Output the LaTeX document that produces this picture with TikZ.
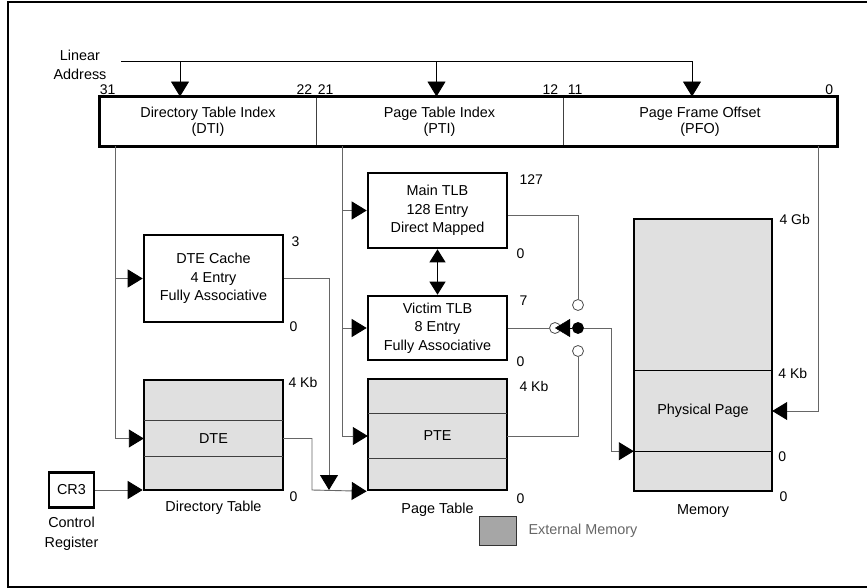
\documentclass[tikz,border=0pt]{standalone}
\usepackage{fontspec}
\setmainfont{Liberation Sans}
\usetikzlibrary{arrows.meta}
\newcommand{\vmfont}{\fontsize{14.4}{18.5}\selectfont}
\newcommand{\numfont}{\fontsize{14}{16}\selectfont}
\tikzset{
    box/.style={draw, line width=2.6pt, inner sep=0pt, align=center, font=\vmfont},
    tab/.style={box, fill=black!12},
    field/.style={draw=black!75, line width=0.9pt, inner sep=0pt, align=center, font=\vmfont, minimum height=49pt},
    row/.style={inner sep=0pt, align=center, font=\vmfont},
    div/.style={draw=black!75, line width=0.9pt},
    wire/.style={draw=black!60, line width=0.9pt},
    arr/.style={-{Triangle[length=15pt,width=18pt,color=black]}},
    num/.style={anchor=north west, inner sep=0pt, font=\numfont},
    captxt/.style={anchor=north, inner sep=0pt, align=center, font=\vmfont},
    port/.style={circle, draw=black!70, fill=white, line width=0.8pt, minimum size=11pt, inner sep=0pt},
}
\begin{document}
\begin{tikzpicture}[x=1pt,y=-1pt]
    \useasboundingbox (0,0) rectangle (867,588);
    \draw[line width=2pt] (867,2) -- (8,2) -- (8,587) -- (867,587);

    % linear address
    \node[row] (lin) at (80,65) {Linear\\Address};
    \node[field, minimum width=216pt] (dti) at (208,121.5) {Directory Table Index\\[-2.5pt](DTI)};
    \node[field, minimum width=247pt] (pti) at (439.5,121.5) {Page Table Index\\[-2.5pt](PTI)};
    \node[field, minimum width=274pt] (pfo) at (700,121.5) {Page Frame Offset\\[-2.5pt](PFO)};
    \draw[line width=2.6pt] (dti.north west) rectangle (pfo.south east);
    \node[num, anchor=south west] at ([yshift=2pt]dti.north west) {31};
    \node[num, anchor=south east] at ([xshift=-4pt,yshift=2pt]dti.north east) {22};
    \node[num, anchor=south west] at ([xshift=2pt,yshift=2pt]pti.north west) {21};
    \node[num, anchor=south east] at ([xshift=-5pt,yshift=2pt]pti.north east) {12};
    \node[num, anchor=south west] at ([xshift=5pt,yshift=2pt]pfo.north west) {11};
    \node[num, anchor=south east] at ([xshift=-4pt,yshift=2pt]pfo.north east) {0};

    \coordinate (la) at (121,61.5);
    \draw[line width=0.9pt] (la) -- (692,61.5);
    \foreach \f/\x in {dti/180, pti/436.5, pfo/692}
        \draw[line width=0.9pt, arr] (\x,61.5) -- (\x,0 |- \f.north);

    % directory side
    \node[box, minimum width=139pt, minimum height=87pt] (dtec) at (213.5,278.5) {DTE Cache\\4 Entry\\Fully Associative};
    \node[tab, minimum width=139pt, minimum height=110pt] (dirtab) at (213.5,435) {};
    \node[row, minimum width=139pt, minimum height=35pt] (dte) at (213.5,438.5) {DTE};
    \draw[div] (dte.north west) -- (dte.north east) (dte.south west) -- (dte.south east);
    \node[box, minimum width=45pt, minimum height=35pt] (cr3) at (71.5,490) {CR3};

    \node[num] at ([xshift=7pt,yshift=-3pt]dtec.north east) {3};
    \node[num] at ([xshift=5pt,yshift=2pt]dtec.south east) {0};
    \node[num] at ([xshift=4pt,yshift=2pt]dirtab.north east) {4 Kb};
    \node[num] at ([xshift=5pt]dirtab.south east) {0};
    \node[captxt] at ([yshift=-10pt]dirtab.south) {Directory Table};
    \node[captxt] at ([yshift=-8pt]cr3.south) {Control\\[1.5pt]Register};

    % page table side
    \node[box, minimum width=139pt, minimum height=75pt] (mtlb) at (437.5,210.5) {Main TLB\\128 Entry\\Direct Mapped};
    \node[box, minimum width=139pt, minimum height=64pt] (vtlb) at (437.5,328) {Victim TLB\\8 Entry\\Fully Associative};
    \node[tab, minimum width=139pt, minimum height=111pt] (ptab) at (437.5,434.5) {};
    \node[row, minimum width=139pt, minimum height=44pt] (pte) at (437.5,436) {PTE};
    \draw[div] (pte.north west) -- (pte.north east) (pte.south west) -- (pte.south east);

    \node[num] at ([xshift=11pt,yshift=-3pt]mtlb.north east) {127};
    \node[num] at ([xshift=8pt,yshift=1pt]mtlb.south east) {0};
    \node[num] at ([xshift=11pt,yshift=-1pt]vtlb.north east) {7};
    \node[num] at ([xshift=8pt,yshift=5pt]vtlb.south east) {0};
    \node[num] at ([xshift=11pt,yshift=-3pt]ptab.north east) {4 Kb};
    \node[num] at ([xshift=8pt,yshift=-2pt]ptab.south east) {0};
    \node[captxt] at ([yshift=-12pt]ptab.south) {Page Table};

    % memory
    \node[tab, minimum width=138pt, minimum height=272pt] (mem) at (703,355) {};
    \node[row, minimum width=138pt, minimum height=80pt] (phys) at (703,411) {Physical Page};
    \draw[line width=0.9pt] (phys.north west) -- (phys.north east) (phys.south west) -- (phys.south east);
    \node[num] at ([xshift=6pt,yshift=4pt]mem.north east) {4 Gb};
    \node[num] at ([xshift=6pt,yshift=3pt]phys.north east) {4 Kb};
    \node[num] at ([xshift=6pt]phys.south east) {0};
    \node[num] at ([xshift=6pt,yshift=1pt]mem.south east) {0};
    \node[captxt] at ([yshift=-12pt]mem.south) {Memory};

    % switch
    \node[port] (swt) at (578,305) {};
    \node[port] (swl) at (555,328) {};
    \node[port] (swb) at (578,351) {};
    \node[port, fill=black, draw=black] (pivot) at (578,328) {};

    % connectors
    \coordinate (dtiout) at (dti.south -| 115,0);
    \coordinate (ptiout) at (pti.south -| 342,0);
    \coordinate (pfoout) at (pfo.south -| 818,0);
    \coordinate (dtebend) at (312,490);
    \coordinate (dtecjoin) at (329,490);
    \draw[wire, arr] (dtiout) |- (dtec.west);
    \draw[wire, arr] (dtiout) |- (dte.west);
    \draw[wire, arr] (cr3.east) -- (cr3.east -| dirtab.west);
    \draw[wire, arr] (dte.east) -| (dtebend) -- (ptab.south west);
    \draw[wire, arr] (dtec.east) -| (dtecjoin);
    \draw[wire, arr] (ptiout) |- (mtlb.west);
    \draw[wire, arr] (ptiout) |- (vtlb.west);
    \draw[wire, arr] (ptiout) |- (pte.west);
    \draw[line width=0.9pt, {Triangle[length=13pt,width=16pt]}-{Triangle[length=13pt,width=16pt]}] (mtlb.south) -- (vtlb.north);
    \draw[wire] ([yshift=-5pt]mtlb.east) -| (swt.north);
    \draw[wire] (vtlb.east) -- (swl.west);
    \draw[wire] (swb.south) |- (pte.east);
    \draw[wire, arr] (pivot.east) -- ++(28,0) |- (phys.south west);
    \draw[wire, arr] (pfoout) |- (phys.east);
    \draw[-{Triangle[length=15pt,width=18pt]}] (pivot) -- (swl.center);

    % legend
    \node[draw=black!80, fill=black!35, line width=0.8pt, minimum width=37pt, minimum height=29pt, inner sep=0pt] (extkey) at (497.5,530.5) {};
    \node[anchor=west, inner sep=0pt, text=black!60, font=\vmfont] (extlbl) at ([xshift=12pt]extkey.east) {External Memory};
\end{tikzpicture}
\end{document}
